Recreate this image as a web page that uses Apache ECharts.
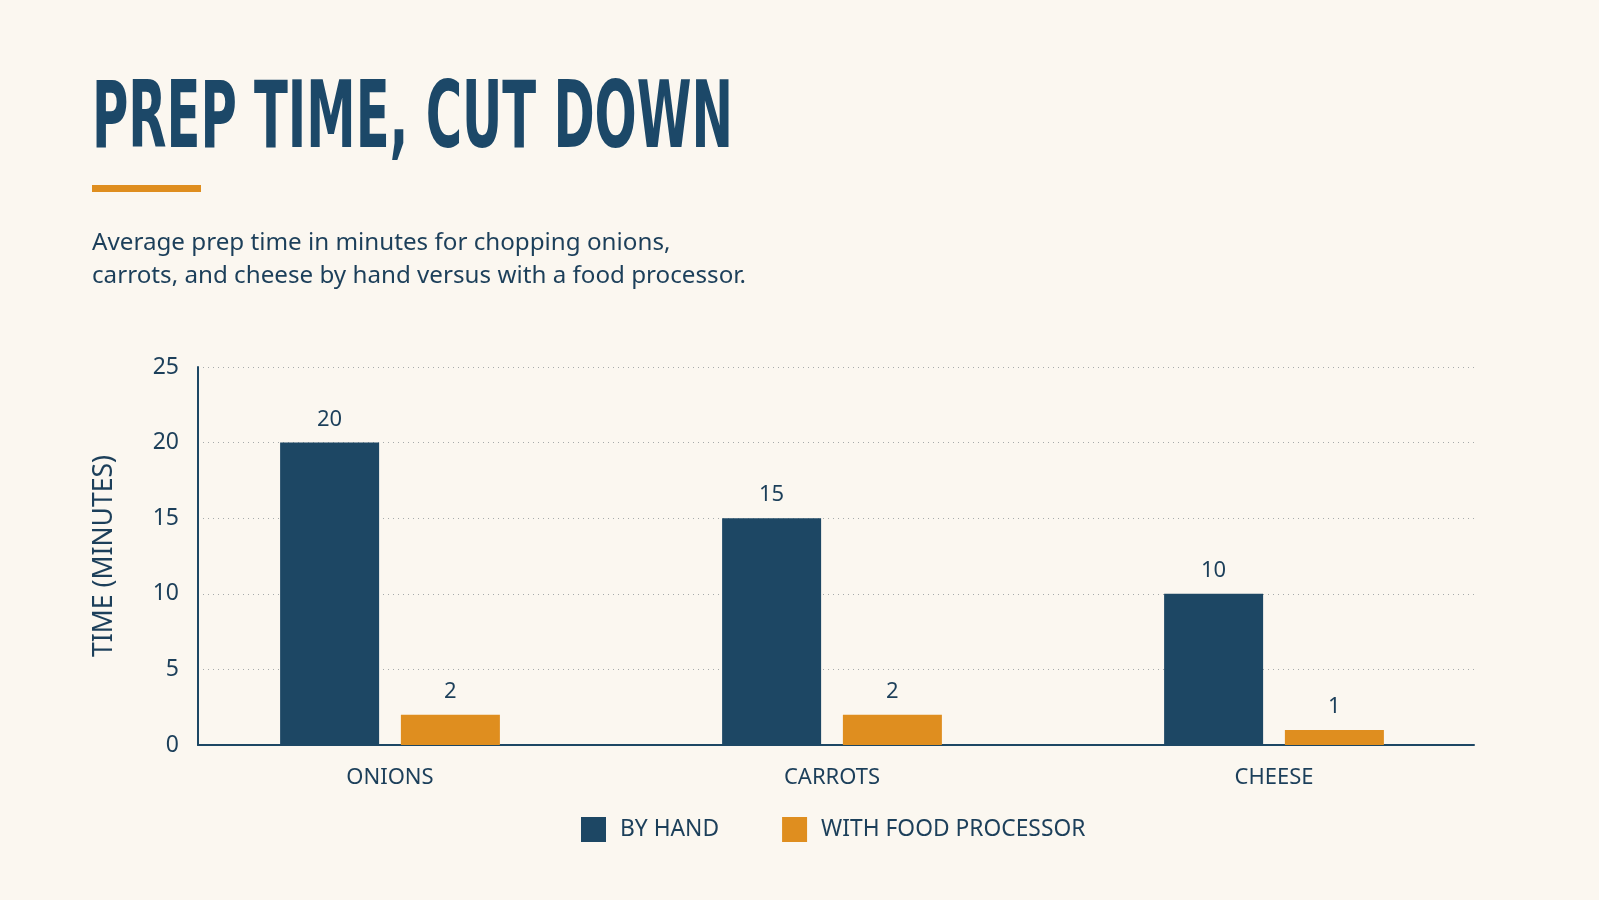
<!DOCTYPE html>
<html>
<head>
<meta charset="utf-8">
<title>Prep time, cut down</title>
<script src="https://cdn.jsdelivr.net/npm/echarts@6/dist/echarts.min.js"></script>
<style>
  html, body { margin: 0; padding: 0; background: #fbf7f0; }
  #chart { width: 1599px; height: 900px; }
</style>
</head>
<body>
<div id="chart"></div>
<script>
// data
const categories = ["ONIONS", "CARROTS", "CHEESE"];
const byHand = [20, 15, 10];
const withProcessor = [2, 2, 1];
const seriesNames = ["BY HAND", "WITH FOOD PROCESSOR"];
const yTicks = { min: 0, max: 25, interval: 5 };

const titleText = "PREP TIME, CUT DOWN";
const subtitleLines = [
  "Average prep time in minutes for chopping onions,",
  "carrots, and cheese by hand versus with a food processor."
];

const NAVY = "#1d4764";
const INK = "#1c3f5a";
const ORANGE = "#df8e1f";
const GRID = "#a7abab";
const BG = "#fbf7f0";
const FONT = "Noto Sans, sans-serif";

// title is a very condensed display face; squeeze whatever font we get to the reference width
const TITLE_FONT = '"Liberation Sans Narrow", "DejaVu Sans Condensed", "Roboto", sans-serif';
const TITLE_SIZE = 92;
const TITLE_WIDTH = 641; // px, 92 -> 733
function measure(font, text) {
  const ctx = document.createElement("canvas").getContext("2d");
  ctx.font = font;
  return ctx.measureText(text).width;
}
const titleScale = TITLE_WIDTH / measure("bold " + TITLE_SIZE + "px " + TITLE_FONT, titleText);

const chart = echarts.init(document.getElementById("chart"), null, { renderer: "canvas" });

const labelStyle = { color: INK, fontSize: 22, fontFamily: FONT };

chart.setOption({
  backgroundColor: BG,
  animation: false,
  textStyle: { fontFamily: FONT },
  graphic: [
    {
      type: "text",
      left: 92,
      top: 77,
      scaleX: titleScale,
      originX: 0,
      style: {
        text: titleText,
        fill: "#1c4868",
        font: "bold " + TITLE_SIZE + "px " + TITLE_FONT
      }
    },
    {
      type: "rect",
      left: 92,
      top: 185,
      shape: { width: 109, height: 7 },
      style: { fill: ORANGE }
    },
    {
      type: "text",
      left: 92,
      top: 227,
      style: {
        text: subtitleLines.join("\n"),
        fill: INK,
        fontSize: 24.2,
        lineHeight: 33,
        fontFamily: FONT
      }
    }
  ],
  legend: {
    left: 576,
    top: 812,
    icon: "rect",
    itemWidth: 25,
    itemHeight: 25,
    itemGap: 63,
    textStyle: { color: INK, fontSize: 22.8, padding: [0, 0, 0, 9] },
    data: seriesNames
  },
  grid: [
    // axes + dotted guides
    { left: 198, right: 125, top: 367, bottom: 155 },
    // bar slots (category spacing is wider than the plotted frame)
    { left: 169, right: 104, top: 367, bottom: 155 }
  ],
  xAxis: [
    {
      gridIndex: 0,
      type: "value",
      min: 0,
      max: 1,
      axisLine: { show: true, lineStyle: { color: NAVY, width: 2 } },
      axisTick: { show: false },
      axisLabel: { show: false },
      splitLine: { show: false }
    },
    {
      gridIndex: 1,
      type: "category",
      data: categories,
      axisLine: { show: false },
      axisTick: { show: false },
      axisLabel: { ...labelStyle, margin: 22 }
    }
  ],
  yAxis: [
    {
      gridIndex: 0,
      type: "value",
      min: yTicks.min,
      max: yTicks.max,
      interval: yTicks.interval,
      name: "TIME (MINUTES)",
      nameLocation: "middle",
      nameGap: 80,
      nameTextStyle: { ...labelStyle, fontSize: 26.5 },
      axisLine: { show: true, lineStyle: { color: NAVY, width: 2 } },
      axisTick: { show: false },
      axisLabel: { ...labelStyle, fontSize: 23, margin: 19 },
      splitLine: { show: true, lineStyle: { color: GRID, width: 1, type: [1, 4] } }
    },
    {
      gridIndex: 1,
      type: "value",
      min: yTicks.min,
      max: yTicks.max,
      interval: yTicks.interval,
      show: false
    }
  ],
  series: [
    {
      name: seriesNames[0],
      type: "bar",
      xAxisIndex: 1,
      yAxisIndex: 1,
      data: byHand,
      barWidth: 99,
      barGap: "22%",
      itemStyle: { color: NAVY },
      label: { show: true, position: "top", distance: 12, ...labelStyle }
    },
    {
      name: seriesNames[1],
      type: "bar",
      xAxisIndex: 1,
      yAxisIndex: 1,
      data: withProcessor,
      barWidth: 99,
      barGap: "22%",
      itemStyle: { color: ORANGE },
      label: { show: true, position: "top", distance: 12, ...labelStyle }
    }
  ]
});
</script>
</body>
</html>
